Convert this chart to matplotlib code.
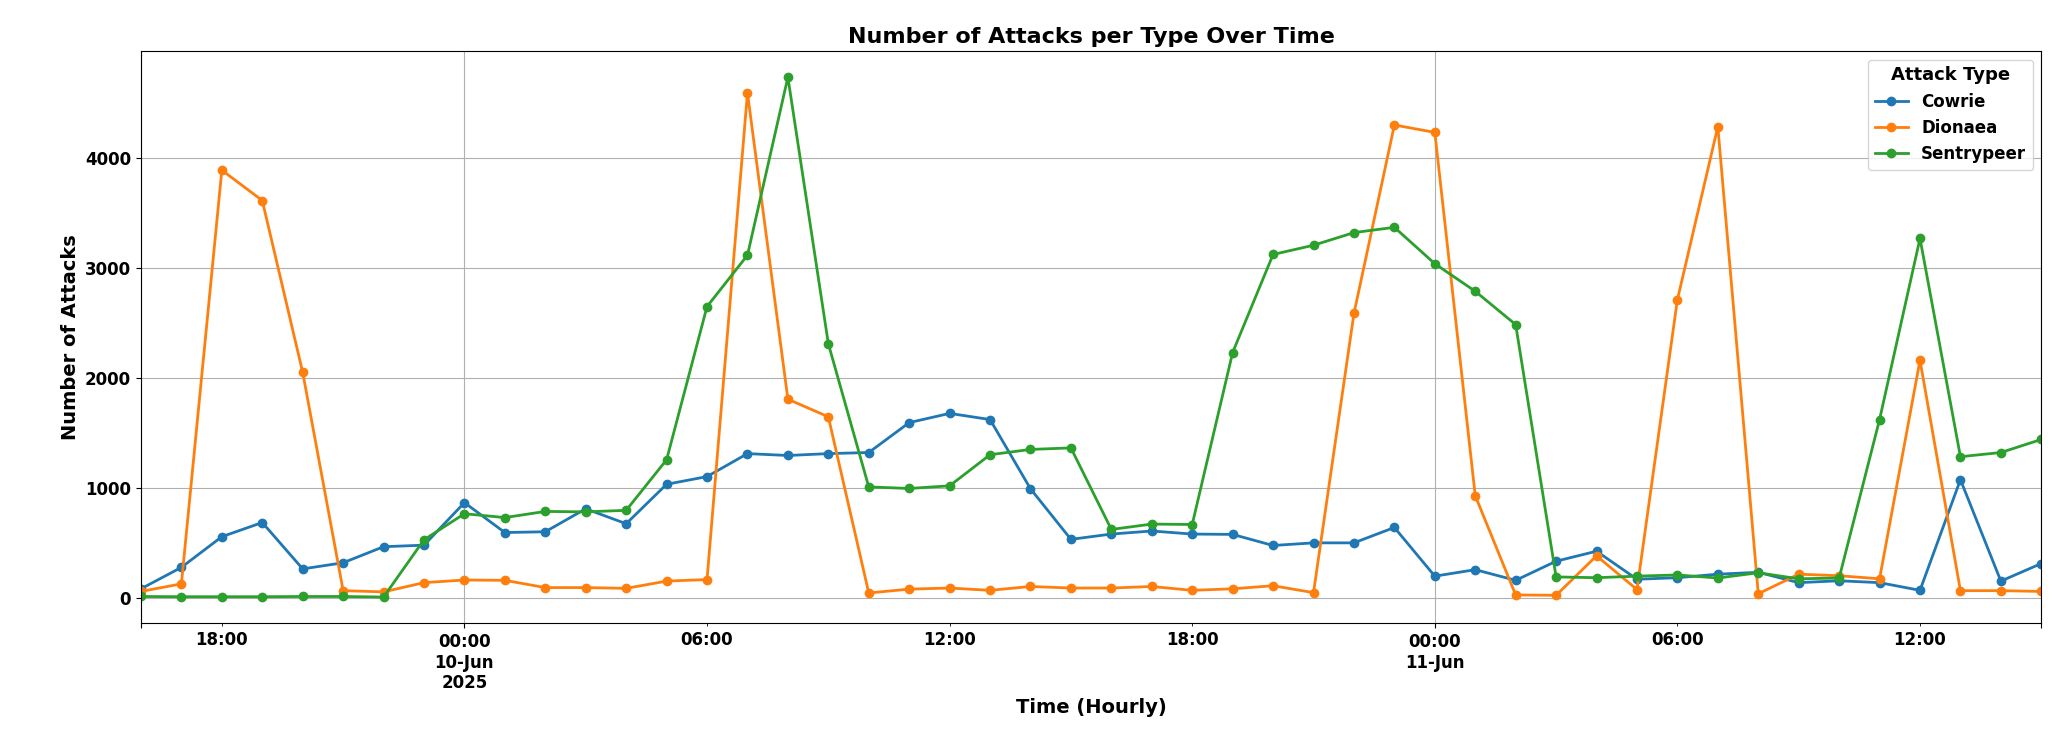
import matplotlib
matplotlib.use("Agg")
import matplotlib.pyplot as plt
import pandas as pd

start = "2025-06-09 16:00"
periods = 48

cowrie = [80, 275, 554, 683, 261, 317, 463, 477, 864, 592, 599, 808, 672, 1031, 1101, 1310,
          1293, 1310, 1320, 1592, 1676, 1620, 990, 530, 578, 606, 578, 575, 474, 498, 498, 638,
          195, 254, 157, 331, 422, 167, 181, 213, 230, 136, 153, 136, 66, 1073, 150, 310]
dionaea = [56, 125, 3889, 3613, 2049, 63, 52, 136, 160, 157, 91, 91, 84, 150, 164, 4592,
           1805, 1645, 42, 77, 87, 66, 101, 87, 87, 101, 66, 80, 108, 45, 2585, 4300,
           4233, 927, 24, 21, 380, 73, 2711, 4286, 35, 213, 199, 171, 2160, 63, 63, 56]
sentrypeer = [10, 8, 8, 8, 10, 10, 5, 526, 763, 728, 784, 780, 794, 1254, 2648, 3115,
              4735, 2310, 1007, 993, 1017, 1300, 1348, 1362, 620, 669, 665, 2230, 3122, 3206, 3321, 3369,
              3038, 2787, 2484, 188, 181, 195, 206, 178, 226, 171, 178, 1620, 3268, 1282, 1320, 1439]

idx = pd.date_range(start, periods=periods, freq="h")
df = pd.DataFrame({"Cowrie": cowrie, "Dionaea": dionaea, "Sentrypeer": sentrypeer}, index=idx)

plt.rcParams['font.weight'] = 'bold'
fig, ax = plt.subplots(figsize=(20.64, 7.53), dpi=100)
df.plot(ax=ax, marker='o', linewidth=2, markersize=6)

ax.set_title("Number of Attacks per Type Over Time", fontsize=16, fontweight='bold')
ax.set_xlabel("Time (Hourly)", fontsize=14, fontweight='bold')
ax.set_ylabel("Number of Attacks", fontsize=14, fontweight='bold')
ax.grid(True)
for lab in ax.get_xticklabels(which='both') + ax.get_yticklabels():
    lab.set_fontweight('bold')
    lab.set_fontsize(12)
leg = ax.legend(title="Attack Type", fontsize=12, title_fontsize=13)
leg.get_title().set_fontweight('bold')
for t in leg.get_texts():
    t.set_fontweight('bold')

fig.subplots_adjust(left=0.0683, right=0.989, bottom=0.1726, top=0.932)
fig.savefig("out.png", dpi=100)
